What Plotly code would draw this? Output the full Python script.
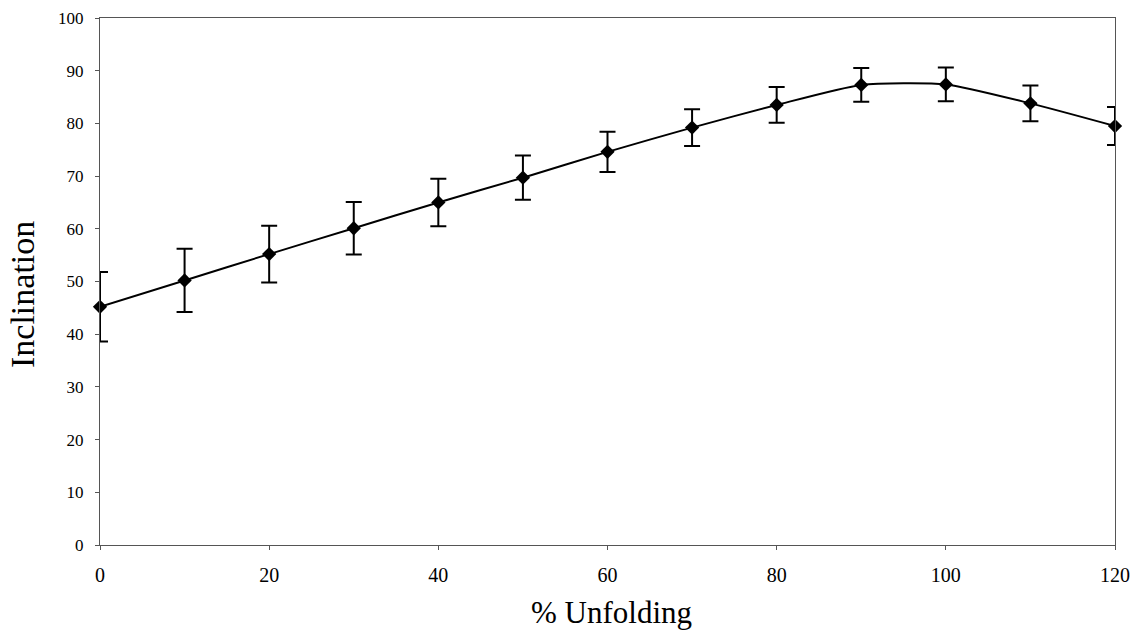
import plotly.graph_objects as go

unfolding = [0, 10, 20, 30, 40, 50, 60, 70, 80, 90, 100, 110, 120]
inclination = [45.2, 50.2, 55.2, 60.1, 65.0, 69.7, 74.6, 79.2, 83.5, 87.3, 87.4, 83.8, 79.5]
error = [6.6, 6.0, 5.4, 5.0, 4.5, 4.2, 3.8, 3.5, 3.4, 3.2, 3.2, 3.4, 3.6]
x_ticks = [0, 20, 40, 60, 80, 100, 120]
y_ticks = [0, 10, 20, 30, 40, 50, 60, 70, 80, 90, 100]
x_title = "% Unfolding"
y_title = "Inclination"

fig = go.Figure()
fig.add_trace(go.Scatter(
    x=unfolding, y=inclination,
    mode="lines+markers",
    line=dict(color="black", width=2, shape="spline", smoothing=0.6),
    marker=dict(symbol="diamond", size=11, color="black"),
    error_y=dict(type="data", array=error, visible=True, color="black", thickness=2, width=8),
    cliponaxis=False,
    showlegend=False,
))

W, H = 1142, 636
L, R, T, B = 100, 27, 18, 91
plot_w = W - L - R
plot_h = H - T - B

font_family = "Liberation Serif, Times New Roman, serif"
fig.update_layout(
    width=W, height=H,
    margin=dict(l=L, r=R, t=T, b=B, autoexpand=False),
    paper_bgcolor="white", plot_bgcolor="white",
    font=dict(family=font_family, color="black"),
    xaxis=dict(
        range=[0, 120], tickvals=x_ticks, ticks="outside", ticklen=4, tickcolor="#555",
        showline=True, linecolor="#555", linewidth=1, mirror=True, showgrid=False, zeroline=False,
        tickfont=dict(size=20), ticklabelstandoff=8, automargin=False,
    ),
    yaxis=dict(
        range=[0, 100], tickvals=y_ticks, ticks="outside", ticklen=4, tickcolor="#555",
        showline=True, linecolor="#555", linewidth=1, mirror=True, showgrid=False, zeroline=False,
        tickfont=dict(size=17), ticklabelstandoff=8, automargin=False,
    ),
    annotations=[
        dict(text=x_title, xref="paper", yref="paper", x=0.5 - (L + plot_w / 2 - 611) / plot_w,
             y=-(613 - (T + plot_h)) / plot_h, xanchor="center", yanchor="middle",
             showarrow=False, font=dict(size=31)),
        dict(text=y_title, xref="paper", yref="paper", x=-(L - 22) / plot_w,
             y=1 - (295 - T) / plot_h, xanchor="center", yanchor="middle", textangle=-90,
             showarrow=False, font=dict(size=34)),
    ],
)

fig.write_html("out.html", config={"displayModeBar": False},
               post_script="document.body.style.margin='0';")
